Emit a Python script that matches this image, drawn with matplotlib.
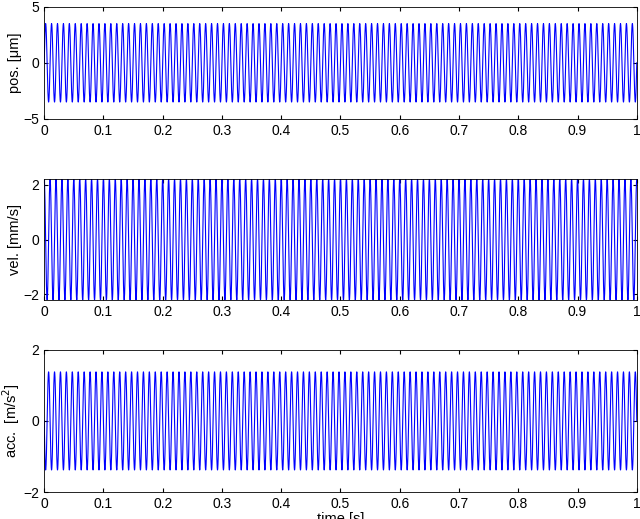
import numpy as np
import matplotlib.pyplot as plt

# signal parameters
freq_hz = 100.0
pos_amp = 3.5          # um
vel_amp = 2.2          # mm/s
acc_amp = 1.38         # m/s^2
ylabels = ["pos. [\u03bcm]", "vel. [mm/s]", "acc.  [m/s$^2$]"]
ylims = [(-5, 5), (-2.2, 2.2), (-2, 2)]
yticks = [[-5, 0, 5], [-2, 0, 2], [-2, 0, 2]]
xticks = [0, 0.1, 0.2, 0.3, 0.4, 0.5, 0.6, 0.7, 0.8, 0.9, 1]

plt.rcParams['font.family'] = 'Liberation Sans'

t = np.linspace(0, 1, 8001)
w = 2 * np.pi * freq_hz
signals = [pos_amp * np.sin(w * t), vel_amp * np.cos(w * t), -acc_amp * np.sin(w * t)]

fig = plt.figure(figsize=(6.4, 5.19), dpi=100)
# [left, bottom, width, height] in figure fractions
boxes = [[0.069, 0.771, 0.926, 0.216],
         [0.069, 0.422, 0.926, 0.233],
         [0.069, 0.052, 0.926, 0.274]]

for i, box in enumerate(boxes):
    ax = fig.add_axes(box)
    ax.plot(t, signals[i], color='#0000ff', linewidth=0.8)
    ax.set_xlim(0, 1)
    ax.set_ylim(*ylims[i])
    ax.set_yticks(yticks[i])
    ax.set_xticks(xticks)
    ax.set_xticklabels([f"{x:g}" for x in xticks])
    ax.set_ylabel(ylabels[i], fontsize=10.5, labelpad=1)
    ax.tick_params(direction='in', labelsize=10, top=True, right=True, length=3)
    for spine in ax.spines.values():
        spine.set_linewidth(0.6)
    if i == 2:
        ax.set_xlabel("time [s]", fontsize=10.5, labelpad=1)

plt.savefig("out.png", dpi=100)
